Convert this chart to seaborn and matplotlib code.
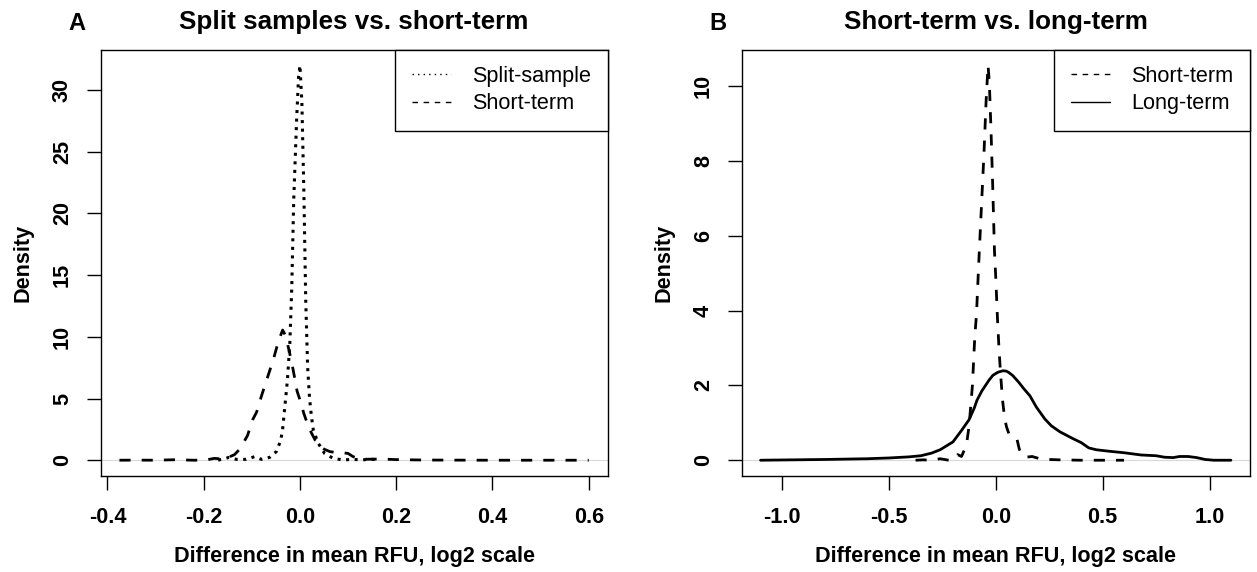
import matplotlib
matplotlib.use("Agg")
import matplotlib.pyplot as plt
from matplotlib.lines import Line2D
from matplotlib.ticker import FormatStrFormatter
import pandas as pd
import seaborn as sns

# density curves (x = difference in mean RFU, y = density)
split_x = [-0.17, -0.164, -0.147, -0.132, -0.112, -0.094, -0.08, -0.063, -0.049,
           -0.04, -0.036, -0.031, -0.026, -0.021, -0.017, -0.013, -0.007, -0.003,
           0.0, 0.004, 0.008, 0.012, 0.016, 0.02, 0.024, 0.028, 0.038, 0.051,
           0.069, 0.09, 0.11, 0.13, 0.145, 0.166]
split_y = [0.0, 0.07, 0.23, 0.07, 0.07, 0.29, 0.07, 0.23, 0.7,
           1.6, 2.5, 4.5, 6.5, 9.5, 14.0, 21.0, 27.5, 31.0,
           32.0, 29.0, 22.0, 13.0, 7.5, 5.0, 3.5, 2.4, 1.38, 0.56,
           0.15, 0.02, 0.07, 0.02, 0.1, 0.0]

short_x = [-0.375, -0.34, -0.3, -0.26, -0.22, -0.195, -0.178, -0.16, -0.145,
           -0.136, -0.125, -0.119, -0.109, -0.098, -0.09, -0.08, -0.07, -0.055,
           -0.045, -0.036, -0.03, -0.022, -0.014, -0.006, 0.0, 0.008, 0.016,
           0.024, 0.032, 0.041, 0.05, 0.062, 0.075, 0.09, 0.1, 0.11, 0.12, 0.14,
           0.17, 0.2, 0.25, 0.3, 0.4, 0.5, 0.6]
short_y = [0.0, 0.01, 0.0, 0.04, 0.0, 0.02, 0.15, 0.1, 0.3,
           0.45, 0.9, 1.3, 2.0, 3.3, 3.9, 5.2, 6.4, 8.2,
           9.6, 10.55, 10.1, 8.8, 7.3, 5.6, 4.9, 3.8, 2.9,
           2.2, 1.6, 1.15, 0.9, 0.7, 0.62, 0.6, 0.55, 0.3, 0.15, 0.08,
           0.1, 0.05, 0.02, 0.01, 0.0, 0.0, 0.0]

long_x = [-1.1, -0.8, -0.6, -0.5, -0.405, -0.35, -0.3, -0.26, -0.2, -0.162,
          -0.125, -0.1, -0.088, -0.065, -0.05, -0.03, -0.013, 0.01, 0.034, 0.05,
          0.062, 0.08, 0.108, 0.13, 0.16, 0.19, 0.23, 0.26, 0.3, 0.36, 0.4,
          0.435, 0.47, 0.53, 0.6, 0.68, 0.75, 0.79, 0.83, 0.86, 0.9, 0.94,
          0.98, 1.02, 1.1]
long_y = [0.0, 0.02, 0.04, 0.06, 0.09, 0.12, 0.19, 0.28, 0.49, 0.78,
          1.08, 1.4, 1.6, 1.85, 1.98, 2.15, 2.27, 2.35, 2.39, 2.38,
          2.34, 2.26, 2.08, 1.92, 1.72, 1.42, 1.1, 0.92, 0.76, 0.58, 0.47,
          0.33, 0.28, 0.24, 0.2, 0.14, 0.12, 0.08, 0.07, 0.1, 0.1, 0.07,
          0.02, 0.0, 0.0]

xticks_a = [-0.4, -0.2, 0.0, 0.2, 0.4, 0.6]
yticks_a = [0, 5, 10, 15, 20, 25, 30]
xticks_b = [-1.0, -0.5, 0.0, 0.5, 1.0]
yticks_b = [0, 2, 4, 6, 8, 10]

sns.set_style("white")
plt.rcParams["font.family"] = ["Liberation Sans", "DejaVu Sans"]
plt.rcParams["axes.unicode_minus"] = False
plt.rcParams["text.color"] = "black"
plt.rcParams["axes.labelcolor"] = "black"

DOTTED = (0, (1, 1.8))
DASHED = (0, (4, 4))


def r_limits(lo, hi):
    # R pads the data range by 4% on each side
    pad = 0.04 * (hi - lo)
    return lo - pad, hi + pad


def style_axes(ax, xticks, yticks, xlim, ylim, title, letter):
    ax.axhline(0, color="#d9d9d9", lw=0.8, zorder=0)
    ax.set_xlim(*xlim)
    ax.set_ylim(*ylim)
    ax.set_xticks(xticks)
    ax.set_yticks(yticks)
    ax.xaxis.set_major_formatter(FormatStrFormatter("%.1f"))
    for s in ax.spines.values():
        s.set_visible(True)
        s.set_color("black")
        s.set_linewidth(1.0)
    ax.tick_params(axis="both", direction="out", length=10, width=1.0,
                   labelsize=15.6, colors="black", bottom=True, left=True,
                   top=False, right=False)
    ax.tick_params(axis="x", pad=12)
    ax.tick_params(axis="y", pad=10, labelrotation=90)
    for lab in ax.get_xticklabels() + ax.get_yticklabels():
        lab.set_fontweight("bold")
    plt.setp(ax.get_yticklabels(), va="center")
    ax.set_xlabel("Difference in mean RFU, log2 scale", fontsize=15.6,
                  fontweight="bold", color="black")
    ax.set_ylabel("Density", fontsize=15.6, fontweight="bold", color="black")
    ax.xaxis.set_label_coords(0.5, -0.188)
    ax.xaxis.label.set_va("center")
    ax.yaxis.set_label_coords(-0.154, 0.5)
    ax.yaxis.label.set_va("center")
    ax.text(0.5, 1.064, title, transform=ax.transAxes, ha="center",
            va="center", fontsize=18.7, fontweight="bold", color="black")
    ax.text(-0.047, 1.062, letter, transform=ax.transAxes, ha="center",
            va="center", fontsize=17, fontweight="bold", color="black")
    ax.grid(False)


fig = plt.figure(figsize=(12.57, 5.72), dpi=100)
ax_a = fig.add_axes([0.0801, 0.1678, 0.4032, 0.7456])
ax_b = fig.add_axes([0.5901, 0.1678, 0.4041, 0.7456])

df_split = pd.DataFrame({"x": split_x, "y": split_y})
df_short = pd.DataFrame({"x": short_x, "y": short_y})
df_long = pd.DataFrame({"x": long_x, "y": long_y})

# panel A
sns.lineplot(data=df_split, x="x", y="y", ax=ax_a, color="black", lw=2.2,
             linestyle=DOTTED, estimator=None, sort=False)
sns.lineplot(data=df_short, x="x", y="y", ax=ax_a, color="black", lw=2.0,
             linestyle=DASHED, estimator=None, sort=False)
xa = r_limits(min(short_x + split_x), max(short_x + split_x))
ya = r_limits(0, max(split_y + short_y))
style_axes(ax_a, xticks_a, yticks_a, xa, ya,
           "Split samples vs. short-term", "A")
ax_a.legend(handles=[Line2D([], [], color="black", lw=1, linestyle=(0, (1, 3))),
                     Line2D([], [], color="black", lw=1, linestyle=DASHED)],
            labels=["Split-sample", "Short-term"], loc="upper right",
            fontsize=15.6, frameon=True, fancybox=False, framealpha=1,
            edgecolor="black", borderaxespad=0, borderpad=0.75,
            handlelength=1.8, handletextpad=1.0, labelspacing=0.3)
ax_a.get_legend().get_frame().set_linewidth(1.0)
for t in ax_a.get_legend().get_texts():
    t.set_color("black")

# panel B
sns.lineplot(data=df_short, x="x", y="y", ax=ax_b, color="black", lw=2.0,
             linestyle=DASHED, estimator=None, sort=False)
sns.lineplot(data=df_long, x="x", y="y", ax=ax_b, color="black", lw=2.0,
             estimator=None, sort=False)
xb = r_limits(min(long_x), max(long_x))
yb = r_limits(0, max(short_y + long_y))
style_axes(ax_b, xticks_b, yticks_b, xb, yb,
           "Short-term vs. long-term", "B")
ax_b.legend(handles=[Line2D([], [], color="black", lw=1, linestyle=DASHED),
                     Line2D([], [], color="black", lw=1)],
            labels=["Short-term", "Long-term"], loc="upper right",
            fontsize=15.6, frameon=True, fancybox=False, framealpha=1,
            edgecolor="black", borderaxespad=0, borderpad=0.75,
            handlelength=1.8, handletextpad=1.0, labelspacing=0.3)
ax_b.get_legend().get_frame().set_linewidth(1.0)
for t in ax_b.get_legend().get_texts():
    t.set_color("black")

fig.savefig("out.png", dpi=100, facecolor="white")
